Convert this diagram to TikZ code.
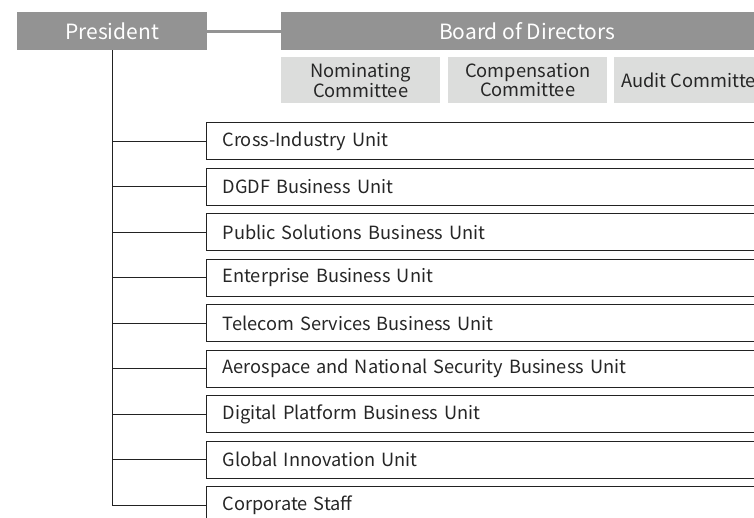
\documentclass[tikz,border=0pt]{standalone}
\usepackage{fontspec}
\setmainfont{Noto Sans CJK JP}
\definecolor{headgray}{HTML}{939393}
\definecolor{comgray}{HTML}{DCDDDC}
\definecolor{lineblk}{HTML}{222222}
\begin{document}
\begin{tikzpicture}[x=1pt,y=-1pt,
  head/.style={fill=headgray, draw=none, text=white, font=\fontsize{21}{23}\selectfont, inner sep=0pt, anchor=north west, minimum height=38},
  com/.style={fill=comgray, draw=none, text=black!85, font=\fontsize{18.3}{16}\selectfont, inner sep=0pt, anchor=north west, minimum height=46, minimum width=159, align=center},
  unitbox/.style={draw=lineblk, line width=1pt, fill=white, anchor=north west, minimum height=37, text width=535, inner xsep=16, inner ysep=0pt, align=left, font=\fontsize{18.2}{20}\selectfont, text=black!85},
  link/.style={draw=lineblk, line width=1pt}
]
\useasboundingbox (0,0) rectangle (754,517);
\clip (0,0) rectangle (754,517);
\node[head, minimum width=190] (pres) at (17,12) {President};
\node[head, minimum width=492] (board) at (281,12) {Board of Directors};
\draw[headgray, line width=3pt] (pres.east) -- (board.west);
\node[com] (nom) at (281,57) {Nominating\\Committee};
\node[com] (comp) at (448,57) {Compensation\\Committee};
\node[com] (aud) at (614,57) {Audit Committee};
\node[unitbox] (u1) at (206,122) {Cross-Industry Unit};
\node[unitbox] (u2) at (206,167.5) {DGDF Business Unit};
\node[unitbox] (u3) at (206,213) {Public Solutions Business Unit};
\node[unitbox] (u4) at (206,258.5) {Enterprise Business Unit};
\node[unitbox] (u5) at (206,304) {Telecom Services Business Unit};
\node[unitbox] (u6) at (206,349.5) {Aerospace and National Security Business Unit};
\node[unitbox] (u7) at (206,395) {Digital Platform Business Unit};
\node[unitbox] (u8) at (206,440.5) {Global Innovation Unit};
\node[unitbox] (u9) at (206,486) {Corporate Staff};
\draw[link] (pres.south) -- (pres.south |- u9.west);
\foreach \u in {u1,u2,u3,u4,u5,u6,u7,u8,u9}{
  \draw[link] (pres.south |- \u.west) -- (\u.west);
}
\end{tikzpicture}
\end{document}
